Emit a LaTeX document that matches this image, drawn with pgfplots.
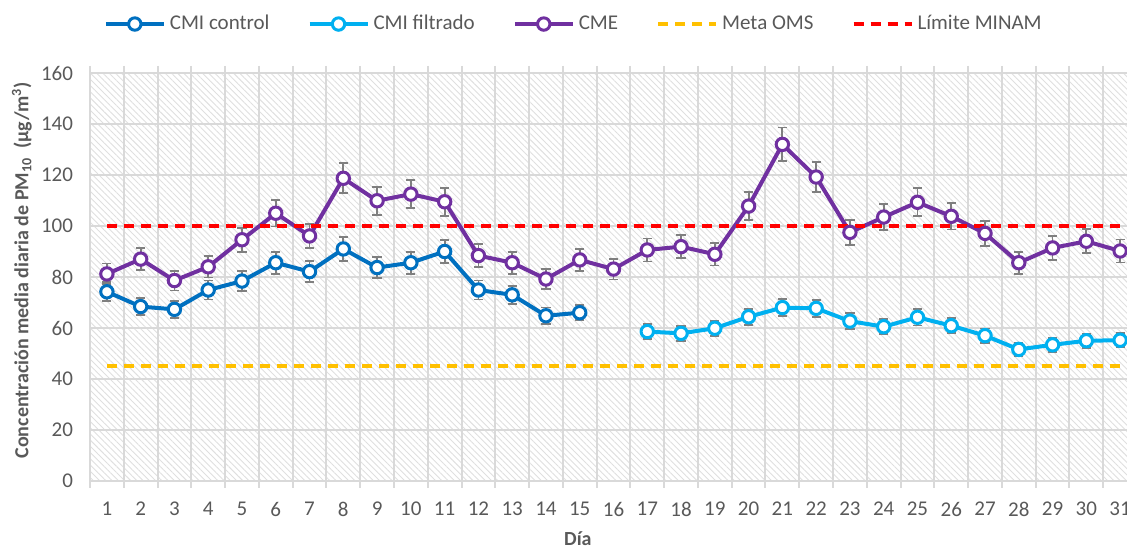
\documentclass[border=0pt]{standalone}
\usepackage{pgfplots}
\pgfplotsset{compat=1.18}
\usepackage{fontspec}
\setmainfont{Carlito}
\usetikzlibrary{patterns.meta}
\definecolor{cctrl}{HTML}{0070C0}
\definecolor{cfilt}{HTML}{00B0F0}
\definecolor{ccme}{HTML}{7030A0}
\definecolor{coms}{HTML}{FFC000}
\definecolor{cmin}{HTML}{FF0000}
\definecolor{gridc}{HTML}{D9D9D9}
\definecolor{txt}{HTML}{595959}
\definecolor{errc}{HTML}{7F7F7F}
\begin{document}
\begin{tikzpicture}
\useasboundingbox (0pt,0pt) rectangle (563.5pt,274.5pt);
\begin{axis}[
  at={(45pt,34pt)}, anchor=south west,
  width=523.5pt, height=204pt, scale only axis,
  xmin=0.5, xmax=31.5, ymin=0, ymax=160,
  xtick={1,...,31},
  minor xtick={0.5,1.5,...,31.5},
  ytick={0,20,...,160},
  xminorgrids=true, ymajorgrids=true, xmajorgrids=false,
  grid style={draw=gridc, line width=1pt},
  minor grid style={draw=gridc, line width=1pt},
  major tick length=0pt, minor tick length=3.5pt,
  tick align=outside,
  minor tick style={draw=gridc, line width=1pt},
  axis line style={draw=gridc, line width=1pt},
  axis background/.style={pattern={Lines[angle=-45,distance=2.2pt,line width=0.45pt]}, pattern color=gray!25},
  /pgf/number format/assume math mode=true,
  tick label style={font=\fontsize{10.5}{12}\selectfont, text=txt},
  xticklabel style={yshift=-7pt},
  yticklabel style={xshift=-5pt},
  xlabel={\textbf{Día}},
  ylabel={\textbf{Concentración media diaria de PM\textsubscript{10}\ \ (µg/m\textsuperscript{3})}},
  label style={font=\fontsize{10}{12}\selectfont, text=txt},
  xlabel style={at={(rel axis cs:0.466,-0.142)}, anchor=center},
  ylabel style={at={(rel axis cs:-0.065,0.517)}, anchor=center},
  legend style={at={(0.463,1.12)}, anchor=center, legend columns=5, draw=none, fill=none,
    font=\fontsize{10.5}{12}\selectfont, text=txt,
    /tikz/every even column/.append style={column sep=17pt}},
  legend image code/.code={\draw[mark repeat=2,mark phase=2] plot coordinates {(0pt,0pt) (14.5pt,0pt) (29pt,0pt)};},
  clip=false,
  every axis plot/.append style={line width=2pt},
]
\addplot[cctrl, mark=*, mark size=3.1pt, mark options={fill=white, draw=cctrl, line width=1.5pt},
  error bars/.cd, y dir=both, y explicit,
  error bar style={errc, line width=0.9pt},
  error mark options={rotate=90, mark size=2.3pt, line width=0.9pt, errc}]
coordinates {
(1,74.2) +- (0,3.7)
(2,68.4) +- (0,3.4)
(3,67.3) +- (0,3.4)
(4,74.9) +- (0,3.7)
(5,78.4) +- (0,3.9)
(6,85.6) +- (0,4.3)
(7,82.1) +- (0,4.1)
(8,91.0) +- (0,4.6)
(9,83.7) +- (0,4.2)
(10,85.6) +- (0,4.3)
(11,90.0) +- (0,4.5)
(12,74.9) +- (0,3.7)
(13,73.0) +- (0,3.6)
(14,64.8) +- (0,3.2)
(15,66.0) +- (0,3.0)
};
\addlegendentry{CMI control}
\addplot[cfilt, mark=*, mark size=3.1pt, mark options={fill=white, draw=cfilt, line width=1.5pt},
  error bars/.cd, y dir=both, y explicit,
  error bar style={errc, line width=0.9pt},
  error mark options={rotate=90, mark size=2.3pt, line width=0.9pt, errc}]
coordinates {
(17,58.6) +- (0,2.9)
(18,57.9) +- (0,2.9)
(19,59.9) +- (0,3.0)
(20,64.4) +- (0,3.2)
(21,68.0) +- (0,3.4)
(22,67.7) +- (0,3.4)
(23,62.7) +- (0,3.1)
(24,60.5) +- (0,3.0)
(25,64.2) +- (0,3.2)
(26,60.9) +- (0,3.0)
(27,57.0) +- (0,2.8)
(28,51.6) +- (0,2.6)
(29,53.4) +- (0,2.7)
(30,55.0) +- (0,2.8)
(31,55.2) +- (0,2.8)
};
\addlegendentry{CMI filtrado}
\addplot[ccme, mark=*, mark size=3.1pt, mark options={fill=white, draw=ccme, line width=1.5pt},
  error bars/.cd, y dir=both, y explicit,
  error bar style={errc, line width=0.9pt},
  error mark options={rotate=90, mark size=2.3pt, line width=0.9pt, errc}]
coordinates {
(1,81.2) +- (0,4.1)
(2,87.0) +- (0,4.3)
(3,78.6) +- (0,3.9)
(4,84.0) +- (0,4.2)
(5,94.6) +- (0,4.7)
(6,105.0) +- (0,5.2)
(7,96.1) +- (0,4.8)
(8,118.7) +- (0,5.9)
(9,109.9) +- (0,5.5)
(10,112.5) +- (0,5.6)
(11,109.5) +- (0,5.5)
(12,88.4) +- (0,4.4)
(13,85.6) +- (0,4.3)
(14,79.2) +- (0,4.0)
(15,86.7) +- (0,4.3)
(16,83.1) +- (0,4.1)
(17,90.6) +- (0,4.5)
(18,91.9) +- (0,4.6)
(19,88.9) +- (0,4.4)
(20,107.8) +- (0,5.4)
(21,132.0) +- (0,6.6)
(22,119.2) +- (0,6.0)
(23,97.5) +- (0,4.9)
(24,103.5) +- (0,5.2)
(25,109.3) +- (0,5.5)
(26,103.8) +- (0,5.2)
(27,97.1) +- (0,4.9)
(28,85.6) +- (0,4.3)
(29,91.4) +- (0,4.6)
(30,94.0) +- (0,4.7)
(31,90.2) +- (0,4.5)
};
\addlegendentry{CME}
\addplot[coms, no marks, line width=2pt, dash pattern=on 5pt off 3.5pt] coordinates {(1,45) (31,45)};
\addlegendentry{Meta OMS}
\addplot[cmin, no marks, line width=2pt, dash pattern=on 5pt off 3.5pt] coordinates {(1,100) (31,100)};
\addlegendentry{Límite MINAM}
\end{axis}
\end{tikzpicture}
\end{document}
